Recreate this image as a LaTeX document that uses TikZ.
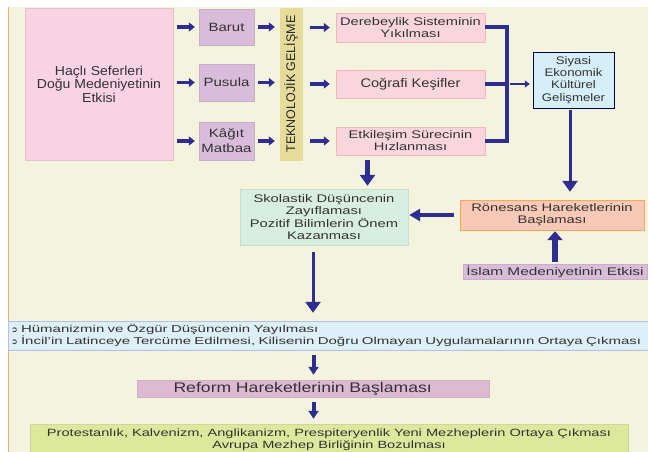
\documentclass[tikz,border=0pt]{standalone}
\usepackage{fontspec}
\setmainfont{Liberation Sans}
\newfontfamily\symfont{DejaVu Sans}
\usepackage{tikz}
\usetikzlibrary{arrows.meta}
\definecolor{bgcream}{HTML}{F3F3DE}
\definecolor{edgeorange}{HTML}{F0B060}
\definecolor{navy}{HTML}{2E2E90}
\definecolor{textgray}{HTML}{333333}
\definecolor{pinkA}{HTML}{F9D3E3}
\definecolor{pinkB}{HTML}{F9D5DD}
\definecolor{lilac}{HTML}{D8BCDA}
\definecolor{sand}{HTML}{E6DC9A}
\definecolor{skyA}{HTML}{D6EEF8}
\definecolor{mint}{HTML}{D8EEDF}
\definecolor{salmon}{HTML}{F9C9B8}
\definecolor{skyB}{HTML}{DDEFF8}
\definecolor{mauve}{HTML}{DDBAD2}
\definecolor{lime}{HTML}{DCE89C}
% size, line skip, stretch
\newcommand\boxfont[3]{\addfontfeatures{FakeStretch=#3}\fontsize{#1}{#2}\selectfont}
\newcommand\bul{{\symfont\fontsize{8}{8}\selectfont ➲}}

\begin{document}
\begin{tikzpicture}[x=1pt,y=-1pt,
    box/.style={draw,rectangle,inner sep=1pt,align=center,text=textgray},
    sarr/.style={navy,line width=3.5pt,-{Triangle[length=6pt,width=9pt]}},
    varr/.style={navy,line width=3.5pt,-{Triangle[length=11pt,width=15pt]}},
    bar/.style={navy,line width=4pt}]
  \useasboundingbox (0,0) rectangle (648,452);
  % background
  \fill[bgcream] (8,7) rectangle (648,452);
  \draw[edgeorange,line width=1.2pt] (8.6,7) -- (8.6,452);

  % top row
  \node[box,fill=pinkA,draw=pinkA!80!gray,minimum width=148pt,minimum height=152pt,
    font=\boxfont{13}{13.5}{1.08}] (hacli) at (99,84)
    {Haçlı Seferleri\\Doğu Medeniyetinin\\Etkisi};
  \node[box,fill=lilac,draw=lilac!80!gray,minimum width=55pt,minimum height=36pt,font=\boxfont{12}{15}{1.25}] (barut) at (226.5,27) {Barut};
  \node[box,fill=lilac,draw=lilac!80!gray,minimum width=55pt,minimum height=37pt,font=\boxfont{12}{15}{1.25}] (pusula) at (226.5,82.5) {Pusula};
  \node[box,fill=lilac,draw=lilac!80!gray,minimum width=55pt,minimum height=38pt,font=\boxfont{12}{15}{1.25}] (kagit) at (226.5,141) {Kâğıt\\Matbaa};
  \node[box,fill=sand,draw=sand,minimum width=22pt,minimum height=152pt,inner sep=0pt,
    text=black!85,font=\boxfont{12.5}{14}{1}] (tekno) at (291,84) {\rotatebox{90}{TEKNOLOJİK GELİŞME}};

  \node[box,fill=pinkB,draw=pinkB!85!red,minimum width=149pt,minimum height=29pt,font=\boxfont{11}{12}{1.33}] (dere) at (410.5,27.5) {Derebeylik Sisteminin\\Yıkılması};
  \node[box,fill=pinkB,draw=pinkB!85!red,minimum width=149pt,minimum height=28pt,font=\boxfont{12.5}{14}{1.17}] (cog) at (410.5,84) {Coğrafi Keşifler};
  \node[box,fill=pinkB,draw=pinkB!85!red,minimum width=149pt,minimum height=28pt,font=\boxfont{11}{12}{1.33}] (etki) at (410.5,141) {Etkileşim Sürecinin\\Hızlanması};
  \node[box,fill=skyA,draw=black!70!blue,minimum width=81pt,minimum height=56pt,font=\boxfont{11}{12.3}{1.2}] (siyasi) at (573.5,80) {Siyasi\\Ekonomik\\Kültürel\\Gelişmeler};

  % middle
  \node[box,fill=mint,draw=mint!85!gray,minimum width=168pt,minimum height=56pt,font=\boxfont{11}{12.3}{1.34}] (skol) at (324,217)
    {Skolastik Düşüncenin\\Zayıflaması\\Pozitif Bilimlerin Önem\\Kazanması};
  \node[box,fill=salmon,draw=orange!70,minimum width=184pt,minimum height=30pt,font=\boxfont{11}{12.3}{1.34}] (ron) at (552,215)
    {Rönesans Hareketlerinin\\Başlaması};
  \node[box,fill=lilac,draw=lilac!80!gray,minimum width=184pt,minimum height=15pt,font=\boxfont{11}{12}{1.4}] (islam) at (555,271.5)
    {İslam Medeniyetinin Etkisi};

  % bottom
  \node[box,fill=skyB,draw=skyB!80!blue,minimum width=640pt,minimum height=29pt,text width=634pt,align=left,
    font=\boxfont{10}{12}{1.5}] (huma) at (328,335.5)
    {\bul\ Hümanizmin ve Özgür Düşüncenin Yayılması\\
     \bul\ İncil'in Latinceye Tercüme Edilmesi, Kilisenin Doğru Olmayan Uygulamalarının Ortaya Çıkması};
  \node[box,fill=mauve,draw=mauve!85!gray,minimum height=17pt,inner xsep=36pt,text width=280pt,align=left,
    font=\boxfont{14}{15}{1.26}] (reform) at (313.5,388.5) {Reform Hareketlerinin Başlaması};
  \node[box,fill=lime,draw=lime!85!gray,minimum width=598pt,minimum height=32pt,font=\boxfont{10.5}{11.5}{1.39}] (prot) at (329,440)
    {Protestanlık, Kalvenizm, Anglikanizm, Prespiteryenlik Yeni Mezheplerin Ortaya Çıkması\\
     Avrupa Mezhep Birliğinin Bozulması};

  % arrows of the top row
  \foreach \n in {barut,pusula,kagit}{
    \draw[sarr,shorten <=4pt,shorten >=4pt] (hacli.east |- \n) -- (\n.west);
    \draw[sarr,shorten <=4pt,shorten >=5pt] (\n.east) -- (tekno.west |- \n);
  }
  \foreach \n in {dere,cog,etki}{
    \draw[sarr,shorten <=8pt,shorten >=6pt] (tekno.east |- \n) -- (\n.west);
  }
  \coordinate (join) at (507,84);
  \draw[bar] (dere.east) -- (dere.east -| join) -- (etki.east -| join) -- (etki.east);
  \draw[bar] (cog.east) -- (join);
  \draw[navy,line width=1.8pt,-{Triangle[length=5pt,width=7pt]},shorten <=3pt,shorten >=3pt] (join) -- (siyasi.west |- join);

  % arrows of the middle
  \draw[varr,line width=5pt,shorten <=5pt,shorten >=3pt] ([xshift=-43pt]etki.south) -- ([xshift=-43pt]etki.south |- skol.north);
  \draw[varr,line width=3pt,shorten <=2pt,shorten >=8pt] ([xshift=-3.5pt]siyasi.south) -- ([xshift=-3.5pt]siyasi.south |- ron.north);
  \draw[varr,line width=4pt,-{Triangle[length=11pt,width=12pt]},shorten <=6pt,shorten >=1pt] (ron.west) -- (skol.east |- ron.west);
  \draw[varr,line width=6pt,-{Triangle[length=9pt,width=15pt]},shorten <=2pt,shorten >=1pt] (islam.north) -- (islam.north |- ron.south);
  \draw[varr,line width=3pt,shorten <=7pt,shorten >=8pt] ([xshift=-11pt]skol.south) -- ([xshift=-11pt]skol.south |- huma.north);

  % arrows of the bottom
  \draw[varr,line width=4pt,-{Triangle[length=8pt,width=10pt]},shorten <=5pt,shorten >=5pt] (reform.north |- huma.south) -- (reform.north);
  \draw[varr,line width=4pt,-{Triangle[length=8pt,width=10pt]},shorten <=5pt,shorten >=5pt] (reform.south) -- (reform.south |- prot.north);
\end{tikzpicture}
\end{document}
